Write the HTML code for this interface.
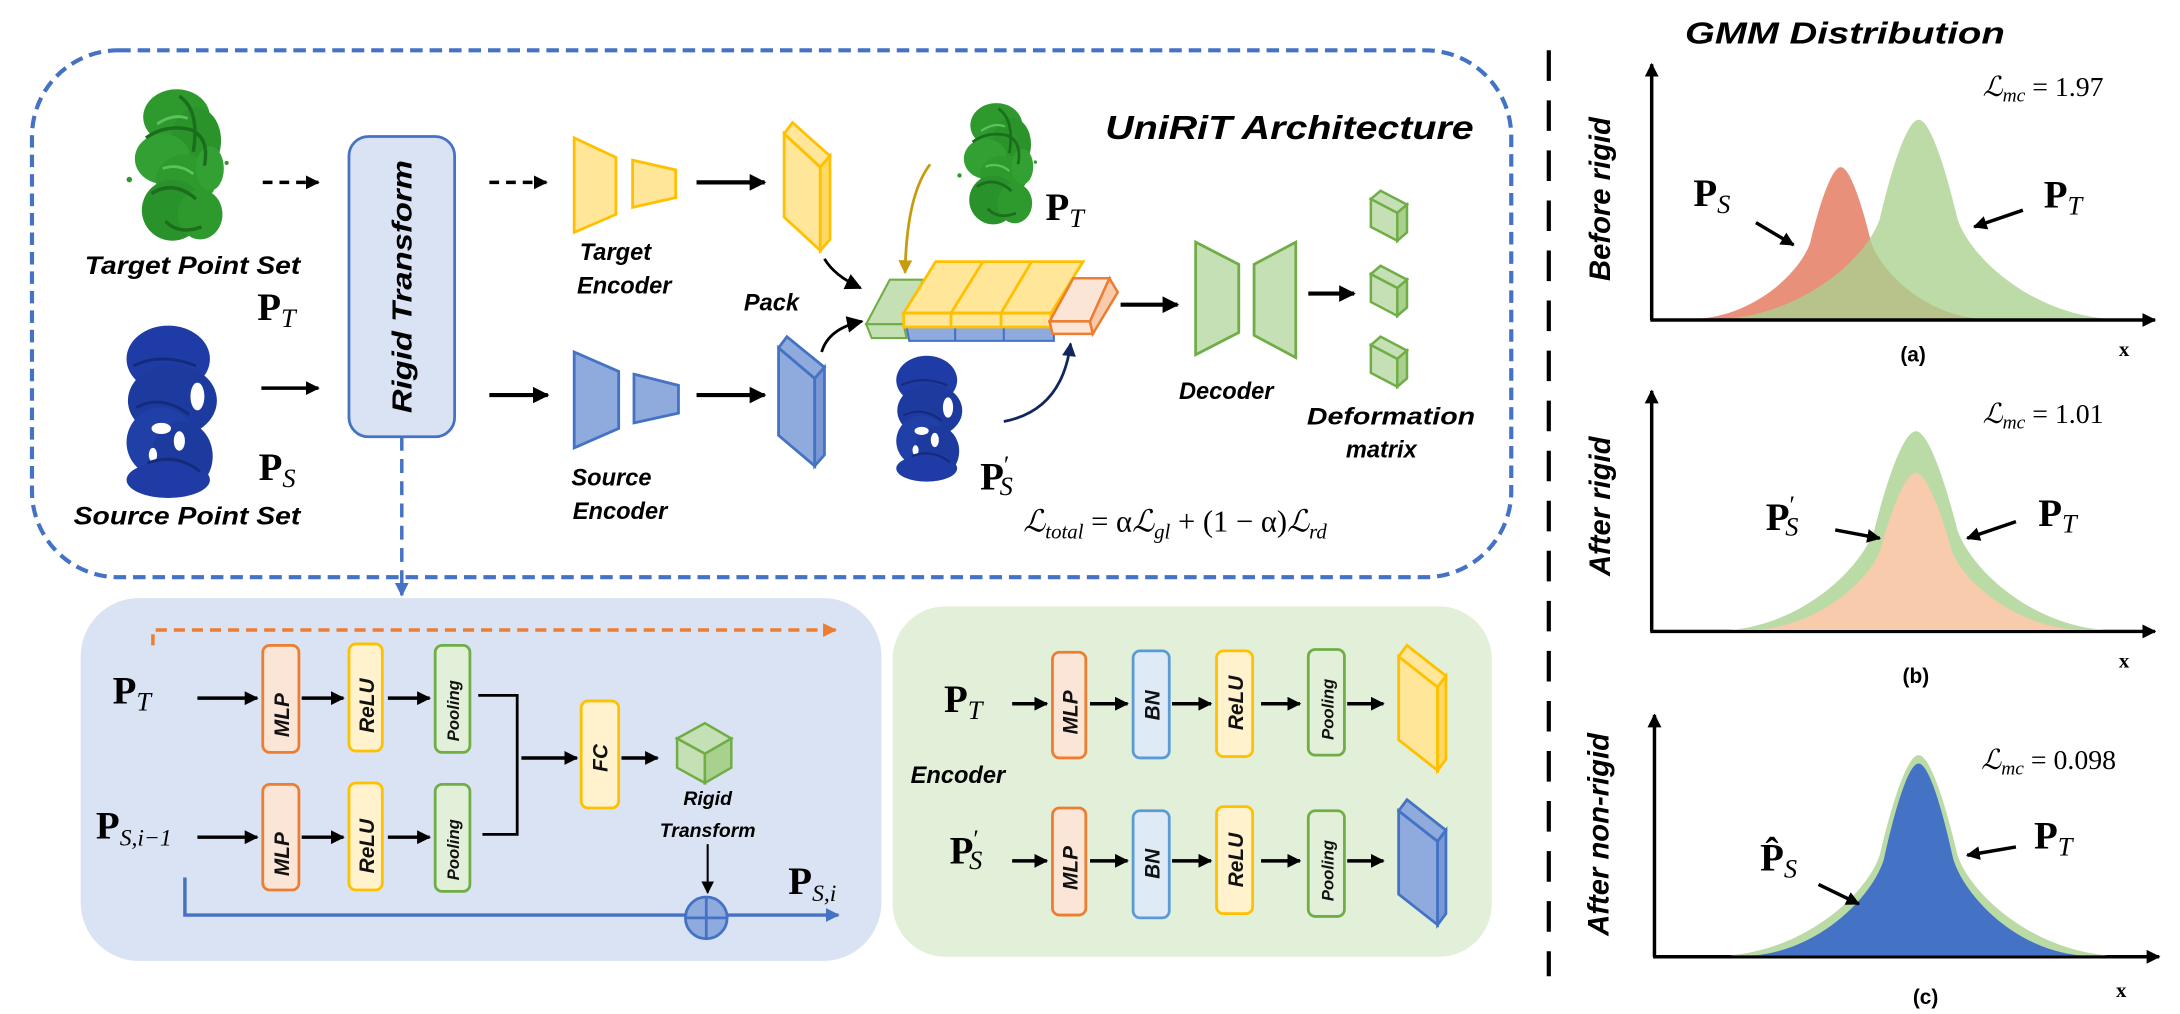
<!DOCTYPE html>
<html><head><meta charset="utf-8"><style>
html,body{margin:0;padding:0;background:#fff;}
svg{display:block;}
.lb{font-family:"Liberation Sans",sans-serif;font-weight:bold;font-style:italic;fill:#000;}
.m{font-family:"Liberation Serif","DejaVu Serif",serif;fill:#000;}
.bx{font-family:"Liberation Sans",sans-serif;font-weight:bold;font-style:italic;fill:#111;}
</style></head><body>
<svg width="2180" height="1014" viewBox="0 0 1568 729" xmlns="http://www.w3.org/2000/svg">
<defs>
<marker id="ah" viewBox="0 0 10 10" refX="9" refY="5" markerWidth="4" markerHeight="4" orient="auto"><path d="M0,0L10,5L0,10z" fill="#000"/></marker>
<marker id="ahs" viewBox="0 0 10 10" refX="9" refY="5" markerWidth="6" markerHeight="6" orient="auto"><path d="M0,0L10,5L0,10z" fill="#000"/></marker>
<marker id="ahB" viewBox="0 0 10 10" refX="9" refY="5" markerWidth="4" markerHeight="4" orient="auto"><path d="M0,0L10,5L0,10z" fill="#4472C4"/></marker>
<marker id="ahO" viewBox="0 0 10 10" refX="9" refY="5" markerWidth="4" markerHeight="4" orient="auto"><path d="M0,0L10,5L0,10z" fill="#ED7D31"/></marker>
<marker id="ahG" viewBox="0 0 10 10" refX="9" refY="5" markerWidth="5" markerHeight="5" orient="auto"><path d="M0,0L10,5L0,10z" fill="#C89B0C"/></marker>
<marker id="ahN" viewBox="0 0 10 10" refX="9" refY="5" markerWidth="5" markerHeight="5" orient="auto"><path d="M0,0L10,5L0,10z" fill="#12265E"/></marker>
<g id="gblob">
 <ellipse cx="38" cy="25" rx="24" ry="20" fill="#2E9A2E"/>
 <ellipse cx="52" cy="42" rx="18" ry="24" fill="#2A942A"/>
 <ellipse cx="28" cy="55" rx="20" ry="18" fill="#33A033"/>
 <ellipse cx="45" cy="70" rx="22" ry="18" fill="#2E9A2E"/>
 <ellipse cx="35" cy="92" rx="22" ry="22" fill="#2A922A"/>
 <ellipse cx="55" cy="95" rx="16" ry="18" fill="#2E9A2E"/>
 <ellipse cx="62" cy="62" rx="10" ry="16" fill="#33A033"/>
 <path d="M16,40 Q30,30 48,34 Q62,40 58,60 M20,80 Q36,70 52,84 M30,100 Q40,110 56,104 M40,10 Q55,20 50,50" fill="none" stroke="#1B6E1B" stroke-width="2.5"/>
 <path d="M24,30 Q36,22 46,26 M28,62 Q40,58 50,66" fill="none" stroke="#5CC25C" stroke-width="2"/>
 <circle cx="4" cy="70" r="2" fill="#2E9A2E"/><circle cx="74" cy="58" r="1.5" fill="#2E9A2E"/>
</g>
<g id="bblob">
 <ellipse cx="35" cy="25" rx="30" ry="24" fill="#1F3CA6"/>
 <ellipse cx="38" cy="55" rx="32" ry="26" fill="#1D3A9F"/>
 <ellipse cx="30" cy="85" rx="25" ry="25" fill="#2040A8"/>
 <ellipse cx="45" cy="95" rx="22" ry="25" fill="#1D3A9F"/>
 <ellipse cx="35" cy="112" rx="30" ry="13" fill="#1F3CA6"/>
 <ellipse cx="56" cy="52" rx="5" ry="10" fill="#fff"/>
 <ellipse cx="30" cy="75" rx="7" ry="4" fill="#fff"/>
 <ellipse cx="43" cy="84" rx="4" ry="7" fill="#fff"/>
 <ellipse cx="24" cy="94" rx="3" ry="5" fill="#fff"/>
 <path d="M10,30 Q30,20 55,30 M12,60 Q30,50 50,65 M20,100 Q40,92 58,106" fill="none" stroke="#142A7A" stroke-width="2"/>
</g>
</defs>

<!-- top dashed box -->
<rect x="23" y="36" width="1064" height="379" rx="62" ry="62" fill="none" stroke="#4472C4" stroke-width="3" stroke-dasharray="9,5"/>
<!-- vertical separator -->
<line x1="1114" y1="36" x2="1114" y2="702" stroke="#000" stroke-width="3" stroke-dasharray="22,14"/>

<!-- blobs -->
<use href="#gblob" transform="translate(89,59)"/>
<use href="#bblob" transform="translate(86,233)"/>
<use href="#gblob" transform="translate(687,70) scale(0.78,0.8)"/>
<use href="#bblob" transform="translate(641,255) scale(0.73,0.73)"/>

<text class="lb" x="61" y="197" font-size="18" textLength="155" lengthAdjust="spacingAndGlyphs">Target Point Set</text>
<text class="lb" x="53" y="377" font-size="18" textLength="163" lengthAdjust="spacingAndGlyphs">Source Point Set</text>

<!-- P labels left -->
<text class="m" x="185" y="230" font-size="28" font-weight="bold">P<tspan font-size="19" font-style="italic" font-weight="normal" dy="5">T</tspan></text>
<text class="m" x="186" y="345" font-size="28" font-weight="bold">P<tspan font-size="19" font-style="italic" font-weight="normal" dy="5">S</tspan></text>

<!-- arrows into rigid -->
<line x1="189" y1="131" x2="229" y2="131" stroke="#000" stroke-width="2.5" stroke-dasharray="7,5" marker-end="url(#ah)"/>
<line x1="188" y1="279" x2="229" y2="279" stroke="#000" stroke-width="2.5" marker-end="url(#ah)"/>

<!-- rigid transform box -->
<rect x="251" y="98" width="76" height="216" rx="14" fill="#DAE3F3" stroke="#4472C4" stroke-width="2"/>
<text class="lb" font-size="20" transform="translate(296,297) rotate(-90)" textLength="182" lengthAdjust="spacingAndGlyphs">Rigid  Transform</text>
<line x1="289" y1="314" x2="289" y2="428" stroke="#4472C4" stroke-width="2.5" stroke-dasharray="10,6" marker-end="url(#ahB)"/>

<!-- target encoder -->
<line x1="352" y1="131" x2="393" y2="131" stroke="#000" stroke-width="2.5" stroke-dasharray="7,5" marker-end="url(#ah)"/>
<polygon points="413,99 443,113 443,154 413,167" fill="#FFE699" stroke="#FFC000" stroke-width="2"/>
<polygon points="455,115 486,122 486,142 455,149" fill="#FFE699" stroke="#FFC000" stroke-width="2"/>
<line x1="501" y1="131" x2="550" y2="131" stroke="#000" stroke-width="3" marker-end="url(#ah)"/>
<polygon points="564,96 590,120 590,180 564,156" fill="#FFE699" stroke="#FFC000" stroke-width="2"/>
<polygon points="564,96 570,88 597,112 590,120" fill="#FFE699" stroke="#FFC000" stroke-width="2"/>
<polygon points="590,120 597,112 597,172 590,180" fill="#FFD966" stroke="#FFC000" stroke-width="2"/>
<text class="lb" x="417" y="187" font-size="17">Target</text>
<text class="lb" x="415" y="211" font-size="17">Encoder</text>

<!-- source encoder -->
<line x1="352" y1="284" x2="394" y2="284" stroke="#000" stroke-width="3" marker-end="url(#ah)"/>
<polygon points="413,253 445,267 445,308 413,322" fill="#8FAADC" stroke="#4472C4" stroke-width="2"/>
<polygon points="456,269 488,277 488,297 456,304" fill="#8FAADC" stroke="#4472C4" stroke-width="2"/>
<line x1="501" y1="284" x2="550" y2="284" stroke="#000" stroke-width="3" marker-end="url(#ah)"/>
<polygon points="560,250 586,272 586,335 560,313" fill="#8FAADC" stroke="#4472C4" stroke-width="2"/>
<polygon points="560,250 566,242 593,264 586,272" fill="#8FAADC" stroke="#4472C4" stroke-width="2"/>
<polygon points="586,272 593,264 593,327 586,335" fill="#7A98D4" stroke="#4472C4" stroke-width="2"/>
<text class="lb" x="411" y="349" font-size="17">Source</text>
<text class="lb" x="412" y="373" font-size="17">Encoder</text>

<text class="lb" x="535" y="223" font-size="17">Pack</text>
<path d="M593,186 Q600,198 619,207" fill="none" stroke="#000" stroke-width="2" marker-end="url(#ahs)"/>
<path d="M591,253 Q596,236 620,231" fill="none" stroke="#000" stroke-width="2" marker-end="url(#ahs)"/>

<!-- packed block -->
<polygon points="652,235 758,235 758,245 654,245" fill="#8FAADC" stroke="#4472C4" stroke-width="1.5"/>
<line x1="687" y1="235" x2="687" y2="245" stroke="#4472C4" stroke-width="1.5"/><line x1="722" y1="235" x2="722" y2="245" stroke="#4472C4" stroke-width="1.5"/>
<polygon points="623,233 640,201 664,201 650,233" fill="#C5E0B4" stroke="#70AD47" stroke-width="1.5"/>
<polygon points="623,233 650,233 652,243 627,243" fill="#C5E0B4" stroke="#70AD47" stroke-width="1.5"/>
<polygon points="650,225 673,188 779,188 756,225" fill="#FFE699" stroke="#FFC000" stroke-width="2"/>
<polygon points="650,225 756,225 756,235 650,235" fill="#FFE699" stroke="#FFC000" stroke-width="2"/>
<line x1="684" y1="235" x2="684" y2="225" stroke="#FFC000" stroke-width="2"/><line x1="684" y1="225" x2="707" y2="188" stroke="#FFC000" stroke-width="2"/>
<line x1="720" y1="235" x2="720" y2="225" stroke="#FFC000" stroke-width="2"/><line x1="720" y1="225" x2="742" y2="188" stroke="#FFC000" stroke-width="2"/>
<polygon points="755,231 772,200 798,200 784,231" fill="#FBE5D6" stroke="#ED7D31" stroke-width="1.8"/>
<polygon points="755,231 784,231 786,240 757,240" fill="#FBE5D6" stroke="#ED7D31" stroke-width="1.8"/>
<polygon points="784,231 798,200 804,210 786,240" fill="#F8CBAD" stroke="#ED7D31" stroke-width="1.8"/>

<text class="m" x="752" y="158" font-size="28" font-weight="bold">P<tspan font-size="19" font-style="italic" font-weight="normal" dy="5">T</tspan></text>
<path d="M669,118 Q652,140 651,196" fill="none" stroke="#C89B0C" stroke-width="2" marker-end="url(#ahG)"/>
<text class="m" x="705" y="352" font-size="28" font-weight="bold">P<tspan font-size="18" dy="-12" font-weight="normal">′</tspan><tspan font-size="19" font-style="italic" font-weight="normal" dx="-7" dy="16">S</tspan></text>
<path d="M722,303 Q764,295 770,247" fill="none" stroke="#12265E" stroke-width="2" marker-end="url(#ahN)"/>

<!-- decoder -->
<line x1="806" y1="219" x2="847" y2="219" stroke="#000" stroke-width="3" marker-end="url(#ah)"/>
<polygon points="860,174 891,190 891,239 860,255" fill="#C5E0B4" stroke="#70AD47" stroke-width="2"/>
<polygon points="902,190 932,174 932,257 902,241" fill="#C5E0B4" stroke="#70AD47" stroke-width="2"/>
<line x1="941" y1="211" x2="974" y2="211" stroke="#000" stroke-width="3" marker-end="url(#ah)"/>
<g fill="#C5E0B4" stroke="#70AD47" stroke-width="1.8">
 <polygon points="986,143 993,137 1012,147 1005,153"/><polygon points="986,143 1005,153 1005,173 986,163"/><polygon points="1005,153 1012,147 1012,167 1005,173" fill="#A9D18E"/>
 <polygon points="986,197 993,191 1012,201 1005,207"/><polygon points="986,197 1005,207 1005,227 986,217"/><polygon points="1005,207 1012,201 1012,221 1005,227" fill="#A9D18E"/>
 <polygon points="986,248 993,242 1012,252 1005,258"/><polygon points="986,248 1005,258 1005,278 986,268"/><polygon points="1005,258 1012,252 1012,272 1005,278" fill="#A9D18E"/>
</g>
<text class="lb" x="848" y="287" font-size="17">Decoder</text>
<text class="lb" x="940" y="305" font-size="17" textLength="121" lengthAdjust="spacingAndGlyphs">Deformation</text>
<text class="lb" x="968" y="329" font-size="17">matrix</text>

<text class="lb" x="795" y="100" font-size="24" textLength="265" lengthAdjust="spacingAndGlyphs">UniRiT  Architecture</text>
<text class="m" x="736" y="382" font-size="22" font-style="italic">ℒ<tspan font-size="15" dy="5">total</tspan><tspan dy="-5" font-style="normal"> = α</tspan>ℒ<tspan font-size="15" dy="5">gl</tspan><tspan dy="-5" font-style="normal"> + (1 − α)</tspan>ℒ<tspan font-size="15" dy="5">rd</tspan></text>

<!-- lower-left blue panel -->
<rect x="58" y="430" width="576" height="261" rx="42" fill="#DAE3F3"/>
<polyline points="110,464 110,453 601,453" fill="none" stroke="#ED7D31" stroke-width="2.5" stroke-dasharray="8,5" marker-end="url(#ahO)"/>
<text class="m" x="81" y="506" font-size="28" font-weight="bold">P<tspan font-size="19" font-style="italic" font-weight="normal" dy="5">T</tspan></text>
<text class="m" x="69" y="603" font-size="28" font-weight="bold">P<tspan font-size="17" font-style="italic" font-weight="normal" dy="5">S,i−1</tspan></text>
<g stroke="#000" stroke-width="2.5" fill="none">
 <line x1="142" y1="502" x2="185" y2="502" marker-end="url(#ah)"/>
 <line x1="217" y1="502" x2="247" y2="502" marker-end="url(#ah)"/>
 <line x1="279" y1="502" x2="309" y2="502" marker-end="url(#ah)"/>
 <line x1="142" y1="602" x2="185" y2="602" marker-end="url(#ah)"/>
 <line x1="217" y1="602" x2="247" y2="602" marker-end="url(#ah)"/>
 <line x1="279" y1="602" x2="309" y2="602" marker-end="url(#ah)"/>
 <polyline points="344,500 372,500 372,600 347,600" stroke-width="2"/>
 <line x1="375" y1="545" x2="415" y2="545" marker-end="url(#ah)"/>
 <line x1="447" y1="545" x2="473" y2="545" marker-end="url(#ah)"/>
 <line x1="509" y1="607" x2="509" y2="642" stroke-width="1.5" marker-end="url(#ahs)"/>
</g>
<g stroke-width="2">
 <rect x="189" y="464" width="26" height="77" rx="5" fill="#FBE5D6" stroke="#ED7D31"/>
 <rect x="251" y="463" width="24" height="77" rx="5" fill="#FFF2CC" stroke="#FFC000"/>
 <rect x="313" y="464" width="25" height="77" rx="5" fill="#E2F0D9" stroke="#70AD47"/>
 <rect x="189" y="564" width="26" height="76" rx="5" fill="#FBE5D6" stroke="#ED7D31"/>
 <rect x="251" y="563" width="24" height="77" rx="5" fill="#FFF2CC" stroke="#FFC000"/>
 <rect x="313" y="564" width="25" height="77" rx="5" fill="#E2F0D9" stroke="#70AD47"/>
 <rect x="418" y="504" width="27" height="77" rx="5" fill="#FFF2CC" stroke="#FFC000"/>
</g>
<g class="bx" font-size="15">
 <text transform="translate(208,530) rotate(-90)">MLP</text>
 <text transform="translate(269,527) rotate(-90)">ReLU</text>
 <text transform="translate(330,533) rotate(-90)" font-size="12">Pooling</text>
 <text transform="translate(208,630) rotate(-90)">MLP</text>
 <text transform="translate(269,628) rotate(-90)">ReLU</text>
 <text transform="translate(330,633) rotate(-90)" font-size="12">Pooling</text>
 <text transform="translate(437,555) rotate(-90)">FC</text>
</g>
<g stroke="#70AD47" stroke-width="1.8" fill="#C5E0B4">
 <polygon points="487,531 507,520 526,531 507,542"/>
 <polygon points="487,531 507,542 507,563 487,552"/>
 <polygon points="507,542 526,531 526,552 507,563" fill="#A9D18E"/>
</g>
<text class="lb" x="509" y="579" font-size="14" text-anchor="middle">Rigid</text>
<text class="lb" x="509" y="602" font-size="14" text-anchor="middle">Transform</text>
<polyline points="133,631 133,658 603,658" fill="none" stroke="#4472C4" stroke-width="2.5" marker-end="url(#ahB)"/>
<ellipse cx="508" cy="660" rx="15" ry="15" fill="#8FAADC" stroke="#4472C4" stroke-width="2"/>
<line x1="493" y1="660" x2="523" y2="660" stroke="#4472C4" stroke-width="2"/>
<line x1="508" y1="645" x2="508" y2="675" stroke="#4472C4" stroke-width="2"/>
<text class="m" x="567" y="643" font-size="28" font-weight="bold">P<tspan font-size="17" font-style="italic" font-weight="normal" dy="5">S,i</tspan></text>

<!-- lower-right green panel -->
<rect x="642" y="436" width="431" height="252" rx="38" fill="#E2F0D9"/>
<text class="m" x="679" y="512" font-size="28" font-weight="bold">P<tspan font-size="19" font-style="italic" font-weight="normal" dy="5">T</tspan></text>
<text class="m" x="683" y="621" font-size="28" font-weight="bold">P<tspan font-size="18" dy="-12" font-weight="normal">′</tspan><tspan font-size="19" font-style="italic" font-weight="normal" dx="-7" dy="16">S</tspan></text>
<text class="lb" x="655" y="563" font-size="17">Encoder</text>
<g stroke="#000" stroke-width="2.5">
 <line x1="728" y1="506" x2="753" y2="506" marker-end="url(#ah)"/>
 <line x1="784" y1="506" x2="811" y2="506" marker-end="url(#ah)"/>
 <line x1="843" y1="506" x2="871" y2="506" marker-end="url(#ah)"/>
 <line x1="907" y1="506" x2="935" y2="506" marker-end="url(#ah)"/>
 <line x1="969" y1="506" x2="995" y2="506" marker-end="url(#ah)"/>
 <line x1="728" y1="619" x2="753" y2="619" marker-end="url(#ah)"/>
 <line x1="784" y1="619" x2="811" y2="619" marker-end="url(#ah)"/>
 <line x1="843" y1="619" x2="871" y2="619" marker-end="url(#ah)"/>
 <line x1="907" y1="619" x2="935" y2="619" marker-end="url(#ah)"/>
 <line x1="969" y1="619" x2="995" y2="619" marker-end="url(#ah)"/>
</g>
<g stroke-width="2">
 <rect x="757" y="469" width="24" height="76" rx="5" fill="#FBE5D6" stroke="#ED7D31"/>
 <rect x="815" y="468" width="26" height="77" rx="5" fill="#DEEBF7" stroke="#5B9BD5"/>
 <rect x="875" y="468" width="26" height="76" rx="5" fill="#FFF2CC" stroke="#FFC000"/>
 <rect x="941" y="467" width="26" height="76" rx="5" fill="#E2F0D9" stroke="#70AD47"/>
 <rect x="757" y="581" width="24" height="77" rx="5" fill="#FBE5D6" stroke="#ED7D31"/>
 <rect x="815" y="583" width="26" height="77" rx="5" fill="#DEEBF7" stroke="#5B9BD5"/>
 <rect x="875" y="580" width="26" height="77" rx="5" fill="#FFF2CC" stroke="#FFC000"/>
 <rect x="941" y="583" width="26" height="76" rx="5" fill="#E2F0D9" stroke="#70AD47"/>
</g>
<g class="bx" font-size="15">
 <text transform="translate(775,528) rotate(-90)">MLP</text>
 <text transform="translate(834,518) rotate(-90)">BN</text>
 <text transform="translate(894,525) rotate(-90)">ReLU</text>
 <text transform="translate(959,532) rotate(-90)" font-size="12">Pooling</text>
 <text transform="translate(775,640) rotate(-90)">MLP</text>
 <text transform="translate(834,632) rotate(-90)">BN</text>
 <text transform="translate(894,638) rotate(-90)">ReLU</text>
 <text transform="translate(959,648) rotate(-90)" font-size="12">Pooling</text>
</g>
<polygon points="1006,472 1034,494 1034,554 1006,532" fill="#FFE699" stroke="#FFC000" stroke-width="2"/>
<polygon points="1006,472 1012,464 1040,486 1034,494" fill="#FFE699" stroke="#FFC000" stroke-width="2"/>
<polygon points="1034,494 1040,486 1040,546 1034,554" fill="#FFD966" stroke="#FFC000" stroke-width="2"/>
<polygon points="1006,583 1034,605 1034,665 1006,643" fill="#8FAADC" stroke="#4472C4" stroke-width="2"/>
<polygon points="1006,583 1012,575 1040,597 1034,605" fill="#8FAADC" stroke="#4472C4" stroke-width="2"/>
<polygon points="1034,605 1040,597 1040,657 1034,665" fill="#7A98D4" stroke="#4472C4" stroke-width="2"/>

<!-- GMM charts -->
<text class="lb" x="1212" y="31" font-size="22" textLength="230" lengthAdjust="spacingAndGlyphs">GMM Distribution</text>
<text class="lb" font-size="21" text-anchor="middle" transform="translate(1158,143) rotate(-90)">Before rigid</text>
<text class="lb" font-size="21" text-anchor="middle" transform="translate(1158,364) rotate(-90)">After rigid</text>
<text class="lb" font-size="21" text-anchor="middle" transform="translate(1157,600) rotate(-90)">After non-rigid</text>

<!-- chart a -->
<path d="M1223 229 C1262.5 225.7, 1294.3 196.3, 1302 174.5 C1308.6 147.3, 1317.4 120, 1324 120 C1330.6 120, 1339.4 147.3, 1346 174.5 C1353.7 196.3, 1384.5 225.7, 1423 229 Z" fill="#E8907A"/>
<path d="M1242 229 C1297 224.7, 1342.2 186.1, 1352 157.5 C1360.4 121.75, 1371.6 86, 1380 86 C1388.4 86, 1399.6 121.75, 1408 157.5 C1417.8 186.1, 1461.5 224.7, 1515 229 Z" fill="#A9D18E" fill-opacity="0.78"/>
<g stroke="#000" stroke-width="2.5" fill="none">
 <line x1="1188" y1="230" x2="1188" y2="46" marker-end="url(#ah)"/>
 <line x1="1187" y1="230" x2="1550" y2="230" marker-end="url(#ah)"/>
 <line x1="1188" y1="454" x2="1188" y2="281" marker-end="url(#ah)"/>
 <line x1="1187" y1="454" x2="1550" y2="454" marker-end="url(#ah)"/>
 <line x1="1190" y1="688" x2="1190" y2="514" marker-end="url(#ah)"/>
 <line x1="1189" y1="688" x2="1553" y2="688" marker-end="url(#ah)"/>
</g>
<text class="m" x="1426" y="69" font-size="20" font-style="italic">ℒ<tspan font-size="14" dy="4">mc</tspan><tspan font-style="normal" dy="-4"> = 1.97</tspan></text>
<text class="m" x="1218" y="148" font-size="28" font-weight="bold">P<tspan font-size="19" font-style="italic" font-weight="normal" dy="5">S</tspan></text>
<text class="m" x="1470" y="149" font-size="28" font-weight="bold">P<tspan font-size="19" font-style="italic" font-weight="normal" dy="5">T</tspan></text>
<line x1="1263" y1="160" x2="1290" y2="176" stroke="#000" stroke-width="2.5" marker-end="url(#ah)"/>
<line x1="1455" y1="151" x2="1420" y2="163" stroke="#000" stroke-width="2.5" marker-end="url(#ah)"/>
<text x="1376" y="260" font-family="Liberation Sans,sans-serif" font-weight="bold" font-size="15" text-anchor="middle">(a)</text>
<text class="m" x="1524" y="256" font-size="15" font-weight="bold">x</text>

<!-- chart b -->
<path d="M1244 453 C1296 448.7, 1337.5 410.1, 1348 381.5 C1357 345.75, 1369 310, 1378 310 C1387 310, 1399 345.75, 1408 381.5 C1418.5 410.1, 1460.5 448.7, 1513 453 Z" fill="#BADBA5"/>
<path d="M1263 453 C1307.5 449.6, 1342.9 419.1, 1352 396.5 C1359.8 368.25, 1370.2 340, 1378 340 C1385.8 340, 1396.2 368.25, 1404 396.5 C1413.1 419.1, 1449 449.6, 1494 453 Z" fill="#F7CBAC"/>
<text class="m" x="1426" y="304" font-size="20" font-style="italic">ℒ<tspan font-size="14" dy="4">mc</tspan><tspan font-style="normal" dy="-4"> = 1.01</tspan></text>
<text class="m" x="1270" y="381" font-size="28" font-weight="bold">P<tspan font-size="18" dy="-12" font-weight="normal">′</tspan><tspan font-size="19" font-style="italic" font-weight="normal" dx="-7" dy="16">S</tspan></text>
<text class="m" x="1466" y="378" font-size="28" font-weight="bold">P<tspan font-size="19" font-style="italic" font-weight="normal" dy="5">T</tspan></text>
<line x1="1320" y1="381" x2="1352" y2="387" stroke="#000" stroke-width="2.5" marker-end="url(#ah)"/>
<line x1="1450" y1="375" x2="1415" y2="387" stroke="#000" stroke-width="2.5" marker-end="url(#ah)"/>
<text x="1378" y="491" font-family="Liberation Sans,sans-serif" font-weight="bold" font-size="15" text-anchor="middle">(b)</text>
<text class="m" x="1524" y="480" font-size="15" font-weight="bold">x</text>

<!-- chart c -->
<path d="M1244 687 C1298 682.7, 1342.2 643.8, 1352 615 C1360.4 579, 1371.6 543, 1380 543 C1388.4 543, 1399.6 579, 1408 615 C1417.8 643.8, 1462 682.7, 1516 687 Z" fill="#BADBA5"/>
<path d="M1262 687 C1308.5 682.9, 1346.25 645.6, 1355 618 C1362.5 583.5, 1372.5 549, 1380 549 C1387.5 549, 1397.5 583.5, 1405 618 C1413.75 645.6, 1450.5 682.9, 1496 687 Z" fill="#4472C4"/>
<text class="m" x="1425" y="553" font-size="20" font-style="italic">ℒ<tspan font-size="14" dy="4">mc</tspan><tspan font-style="normal" dy="-4"> = 0.098</tspan></text>
<text class="m" x="1266" y="626" font-size="28" font-weight="bold">P̂<tspan font-size="19" font-style="italic" font-weight="normal" dy="5">S</tspan></text>
<text class="m" x="1463" y="610" font-size="28" font-weight="bold">P<tspan font-size="19" font-style="italic" font-weight="normal" dy="5">T</tspan></text>
<line x1="1308" y1="636" x2="1337" y2="650" stroke="#000" stroke-width="2.5" marker-end="url(#ah)"/>
<line x1="1450" y1="609" x2="1415" y2="615" stroke="#000" stroke-width="2.5" marker-end="url(#ah)"/>
<text x="1385" y="722" font-family="Liberation Sans,sans-serif" font-weight="bold" font-size="15" text-anchor="middle">(c)</text>
<text class="m" x="1522" y="717" font-size="15" font-weight="bold">x</text>
</svg>
</body></html>
